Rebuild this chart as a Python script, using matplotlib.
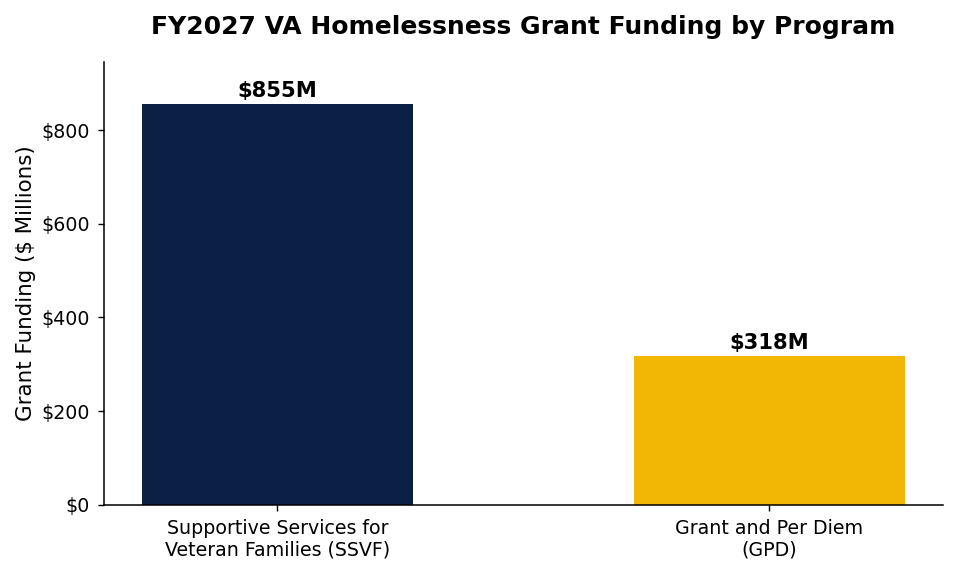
import matplotlib
matplotlib.use("Agg")
import matplotlib.pyplot as plt
from matplotlib.ticker import FuncFormatter

programs = ["Supportive Services for\nVeteran Families (SSVF)", "Grant and Per Diem\n(GPD)"]
funding = [855, 318]
colors = ["#0B2045", "#F2B705"]

fig, ax = plt.subplots(figsize=(9.58, 5.75), dpi=100)
fig.subplots_adjust(left=0.1086, right=0.984, top=0.892, bottom=0.122)

x = range(len(programs))
bars = ax.bar(x, funding, width=0.55, color=colors)

for b, v in zip(bars, funding):
    ax.text(b.get_x() + b.get_width() / 2, v + 6, f"${v}M",
            ha="center", va="bottom", fontsize=15.2, fontweight="bold")

ax.set_xticks(list(x))
ax.set_xticklabels(programs, fontsize=13.7)
ax.set_ylim(0, 945)
ax.set_yticks([0, 200, 400, 600, 800])
ax.yaxis.set_major_formatter(FuncFormatter(lambda v, p: f"${v:.0f}"))
ax.tick_params(axis="y", labelsize=13.7)
ax.tick_params(length=4.5, width=1, pad=5.5)
ax.set_ylabel("Grant Funding ($ Millions)", fontsize=15.4)
ax.set_title("FY2027 VA Homelessness Grant Funding by Program",
             fontsize=18, fontweight="bold", pad=20)

ax.spines["top"].set_visible(False)
ax.spines["right"].set_visible(False)
ax.spines["left"].set_linewidth(1.1)
ax.spines["bottom"].set_linewidth(1.1)

fig.savefig("out.png")
